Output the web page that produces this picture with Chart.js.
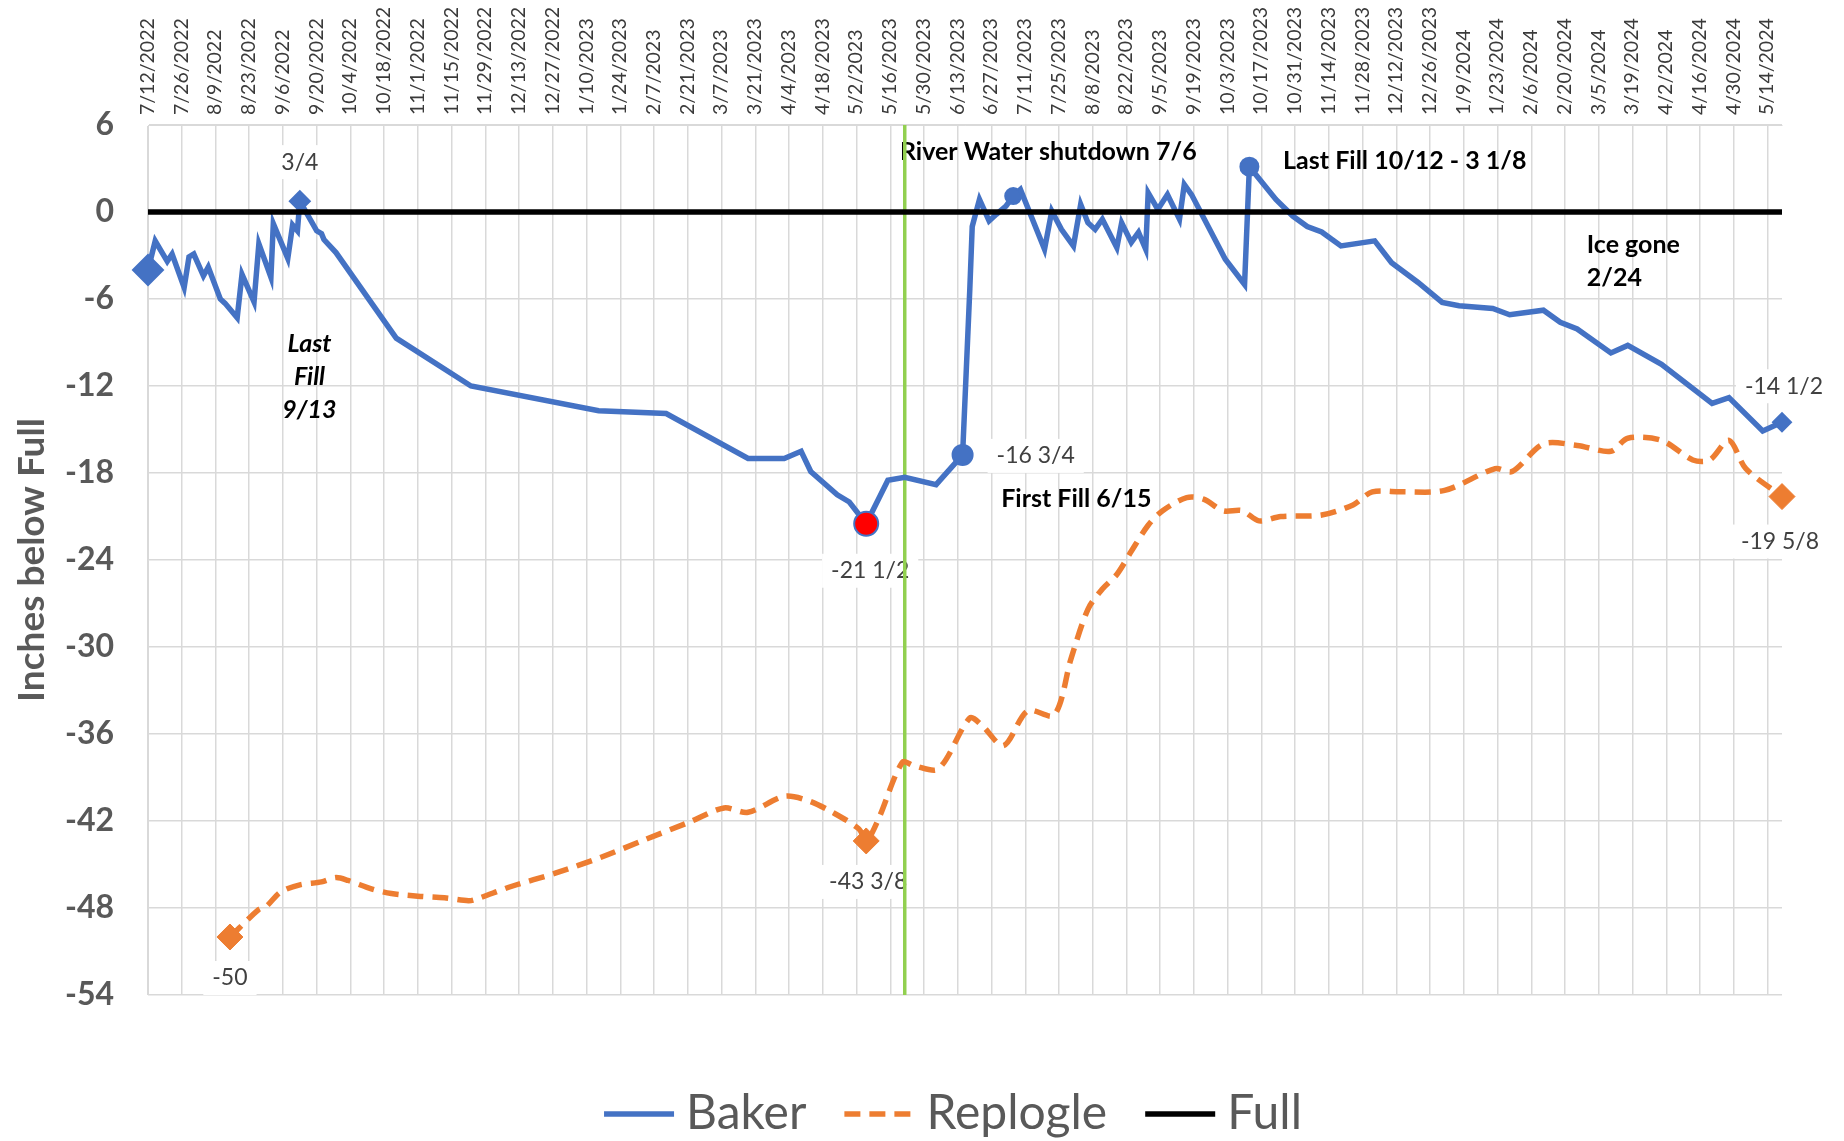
<!DOCTYPE html>
<html lang="en">
<head>
<meta charset="UTF-8">
<title>Baker / Replogle levels</title>
<script src="https://cdn.jsdelivr.net/npm/chart.js"></script>
<style>
  html, body { margin: 0; padding: 0; background: #fff; }
  #wrap { width: 1844px; height: 1141px; position: relative; }
</style>
</head>
<body>
<div id="wrap"><canvas id="levelChart"></canvas></div>
<script>
// x = days since 7/12/2022, y = inches below full
const tickLabels = ['7/12/2022','7/26/2022','8/9/2022','8/23/2022','9/6/2022','9/20/2022','10/4/2022','10/18/2022',
  '11/1/2022','11/15/2022','11/29/2022','12/13/2022','12/27/2022','1/10/2023','1/24/2023','2/7/2023','2/21/2023',
  '3/7/2023','3/21/2023','4/4/2023','4/18/2023','5/2/2023','5/16/2023','5/30/2023','6/13/2023','6/27/2023',
  '7/11/2023','7/25/2023','8/8/2023','8/22/2023','9/5/2023','9/19/2023','10/3/2023','10/17/2023','10/31/2023',
  '11/14/2023','11/28/2023','12/12/2023','12/26/2023','1/9/2024','1/23/2024','2/6/2024','2/20/2024','3/5/2024',
  '3/19/2024','4/2/2024','4/16/2024','4/30/2024','5/14/2024'];

const bakerDays = [0,3,8,10,15,17,19,23,25,30,32,37,39,44,46,51,52,58,60,62,63,70,72,73,78,103,134,187,215,249,
  264,271,275,286,291,298,307,314,327,338,341,342,345,349,352,356,359,362,372,375,379,384,387,390,393,396,402,404,
  408,411,414,415,419,423,428,430,433,447,455,457,468,475,481,487,495,509,516,527,537,544,558,565,579,586,593,607,
  614,628,649,656,670,678];
const bakerInches = [-4,-2,-3.4,-2.9,-5.2,-3.1,-2.9,-4.4,-3.8,-6,-6.3,-7.3,-4.3,-6.2,-2.2,-4.5,-0.8,-3.2,-0.9,-1.3,
  0.75,-1.3,-1.5,-1.9,-2.8,-8.7,-12,-13.7,-13.9,-17,-17,-16.5,-17.9,-19.5,-20,-21.5,-18.5,-18.3,-18.8,-16.75,
  -5.3,-1,0.87,-0.62,-0.16,0.4,1.1,1.56,-2.57,0.07,-1.2,-2.35,0.53,-0.74,-1.2,-0.5,-2.46,-0.74,-2.1,-1.4,
  -2.57,1.33,0.18,1.2,-0.5,1.9,1.2,-3.26,-5,3.125,0.87,-0.28,-1,-1.38,-2.34,-1.99,-3.5,-4.86,-6.24,-6.47,
  -6.65,-7.09,-6.77,-7.6,-8.07,-9.72,-9.2,-10.5,-13.2,-12.8,-15.1,-14.5];

const replogleDays = [34,46,49,55,63,72,78,83,93,101,113,123,133,136,151,169,188,206,225,239,249,264,274,284,295,
  298,303,313,318,328,341,346,355,365,376,383,390,396,402,408,415,421,431,438,446,454,461,470,487,500,508,520,538,
  559,566,579,593,607,614,628,641,648,656,663,678];
const replogleInches = [-50,-48.1,-47.9,-46.9,-46.4,-46.2,-45.9,-46.1,-46.7,-47,-47.2,-47.3,-47.5,-47.4,-46.5,
  -45.6,-44.5,-43.3,-42.05,-41.1,-41.4,-40.3,-40.6,-41.4,-42.55,-43.375,-41.9,-37.95,-38.2,-38.4,-34.9,-35.4,
  -36.8,-34.4,-34.7,-30.8,-27.4,-26,-25,-23.4,-21.6,-20.6,-19.7,-19.8,-20.6,-20.6,-21.3,-21,-20.9,-20.2,-19.3,
  -19.3,-19.2,-17.7,-17.9,-16,-16.1,-16.5,-15.6,-15.75,-17.1,-17.1,-15.75,-17.7,-19.625];

const fullDays = [0, 678];
const fullInches = [0, 0];

const shutdownDays = [314, 314];
const shutdownInches = [6, -54];

const BLUE = '#4472C4', ORANGE = '#ED7D31', GREEN = '#92D050';
const FONT = "Lato, 'Open Sans', sans-serif";

// highlighted points
const bakerMarks = [
  {day: 0, style: 'rectRot', r: 15, fill: BLUE},
  {day: 63, style: 'rectRot', r: 10, fill: BLUE},
  {day: 298, style: 'circle', r: 12, fill: '#FF0000'},
  {day: 338, style: 'circle', r: 10, fill: BLUE},
  {day: 359, style: 'circle', r: 8, fill: BLUE},
  {day: 457, style: 'circle', r: 9, fill: BLUE},
  {day: 678, style: 'rectRot', r: 9, fill: BLUE}
];
const replogleMarks = [
  {day: 34, style: 'rectRot', r: 13, fill: ORANGE},
  {day: 298, style: 'rectRot', r: 13, fill: ORANGE},
  {day: 678, style: 'rectRot', r: 13, fill: ORANGE}
];

// value labels (white box), offsets in px from the point
const valueLabels = [
  {text: '3/4', day: 63, inches: 0.75, dx: 0, dy: -39, align: 'center'},
  {text: '-16 3/4', day: 338, inches: -16.75, dx: 34, dy: 1, align: 'left'},
  {text: '-21 1/2', day: 298, inches: -21.5, dx: 4, dy: 47, align: 'center'},
  {text: '-43 3/8', day: 298, inches: -43.375, dx: 2, dy: 41, align: 'center'},
  {text: '-50', day: 34, inches: -50, dx: 0, dy: 41, align: 'center'},
  {text: '-14 1/2', day: 678, inches: -14.5, dx: 2, dy: -36, align: 'center'},
  {text: '-19 5/8', day: 678, inches: -19.625, dx: -2, dy: 45, align: 'center'}
];

// free text notes
const notes = [
  {lines: ['River Water shutdown 7/6'], day: 312, inches: 4.14, align: 'left'},
  {lines: ['Last Fill 10/12 - 3 1/8'], day: 471, inches: 3.5, align: 'left'},
  {lines: ['Ice gone', '2/24'], day: 597, inches: -2.28, align: 'left'},
  {lines: ['Last', 'Fill', '9/13'], day: 67, inches: -9.1, align: 'center', italic: true},
  {lines: ['First Fill 6/15'], day: 354, inches: -19.8, align: 'left'}
];

function toPoints(days, vals) {
  return days.map((d, i) => ({x: d, y: vals[i]}));
}

function markOf(marks, days, ctx) {
  if (ctx.dataIndex === undefined) return null;
  const d = days[ctx.dataIndex];
  return marks.find(m => m.day === d) || null;
}

const notesPlugin = {
  id: 'notes',
  beforeDatasetsDraw(chart) {
    const {ctx, scales: {x, y}} = chart;
    ctx.save();
    ctx.textBaseline = 'middle';

    ctx.font = `23px ${FONT}`;
    valueLabels.forEach(l => {
      const px = x.getPixelForValue(l.day) + l.dx;
      const py = y.getPixelForValue(l.inches) + l.dy;
      const w = ctx.measureText(l.text).width;
      const left = l.align === 'left' ? px : px - w / 2;
      ctx.fillStyle = '#fff';
      ctx.fillRect(left - 9, py - 17, w + 18, 34);
      ctx.fillStyle = '#404040';
      ctx.textAlign = l.align;
      ctx.fillText(l.text, px, py);
    });

    notes.forEach(n => {
      ctx.font = `${n.italic ? 'italic ' : ''}bold 25px ${FONT}`;
      ctx.fillStyle = '#000';
      ctx.textAlign = n.align;
      const px = x.getPixelForValue(n.day);
      const py = y.getPixelForValue(n.inches);
      n.lines.forEach((t, i) => ctx.fillText(t, px, py + i * 33));
    });
    ctx.restore();
  }
};

// legend drawn by hand so the spacing matches the original
const legendPlugin = {
  id: 'lineLegend',
  afterDraw(chart) {
    const {ctx, chartArea} = chart;
    const items = chart.data.datasets.filter(ds => ds.label);
    const sym = 70, gap = 12, space = 38;
    ctx.save();
    ctx.font = `48px ${FONT}`;
    const widths = items.map(ds => ctx.measureText(ds.label).width);
    const total = widths.reduce((a, w) => a + sym + gap + w, 0) + space * (items.length - 1);
    let cx = (chartArea.left + chartArea.right) / 2 - 12 - total / 2;
    const cy = chartArea.bottom + 119;
    items.forEach((ds, i) => {
      ctx.strokeStyle = ds.borderColor;
      ctx.lineWidth = ds.borderWidth;
      ctx.setLineDash(ds.borderDash || []);
      ctx.beginPath();
      ctx.moveTo(cx, cy);
      ctx.lineTo(cx + sym, cy);
      ctx.stroke();
      ctx.setLineDash([]);
      ctx.fillStyle = '#595959';
      ctx.textAlign = 'left';
      ctx.textBaseline = 'middle';
      ctx.fillText(ds.label, cx + sym + gap, cy);
      cx += sym + gap + widths[i] + space;
    });
    ctx.restore();
  }
};

new Chart(document.getElementById('levelChart'), {
  type: 'line',
  data: {
    datasets: [
      {
        label: 'Baker',
        data: toPoints(bakerDays, bakerInches),
        borderColor: BLUE,
        backgroundColor: BLUE,
        borderWidth: 5.5,
        tension: 0,
        order: 1,
        clip: false,
        pointStyle: ctx => (markOf(bakerMarks, bakerDays, ctx) || {}).style || 'circle',
        pointRadius: ctx => (markOf(bakerMarks, bakerDays, ctx) || {}).r || 0,
        pointHoverRadius: ctx => (markOf(bakerMarks, bakerDays, ctx) || {}).r || 0,
        pointBackgroundColor: ctx => (markOf(bakerMarks, bakerDays, ctx) || {}).fill || BLUE,
        pointBorderColor: BLUE,
        pointBorderWidth: 2
      },
      {
        label: 'Replogle',
        data: toPoints(replogleDays, replogleInches),
        borderColor: ORANGE,
        backgroundColor: ORANGE,
        borderWidth: 5.5,
        borderDash: [16, 9],
        tension: 0.3,
        order: 2,
        clip: false,
        pointStyle: 'rectRot',
        pointRadius: ctx => (markOf(replogleMarks, replogleDays, ctx) || {}).r || 0,
        pointHoverRadius: ctx => (markOf(replogleMarks, replogleDays, ctx) || {}).r || 0,
        pointBackgroundColor: ORANGE,
        pointBorderColor: ORANGE,
        pointBorderWidth: 1
      },
      {
        label: 'Full',
        data: toPoints(fullDays, fullInches),
        borderColor: '#000',
        backgroundColor: '#000',
        borderWidth: 5.5,
        pointRadius: 0,
        order: 0
      },
      {
        label: '',
        data: toPoints(shutdownDays, shutdownInches),
        borderColor: GREEN,
        backgroundColor: GREEN,
        borderWidth: 3.5,
        pointRadius: 0,
        order: 3
      }
    ]
  },
  options: {
    responsive: true,
    maintainAspectRatio: false,
    animation: false,
    layout: {padding: {left: 0, right: 62, top: 0, bottom: 146}},
    plugins: {
      tooltip: {enabled: false},
      legend: {display: false}
    },
    scales: {
      x: {
        type: 'linear',
        position: 'top',
        min: 0,
        max: 678,
        afterFit: s => { s.height = 125; },
        grid: {color: '#D9D9D9', lineWidth: 1.5, drawTicks: false},
        border: {color: '#D9D9D9'},
        ticks: {
          stepSize: 14,
          includeBounds: false,
          autoSkip: false,
          minRotation: 90,
          maxRotation: 90,
          padding: 10,
          labelOffset: 23,
          color: '#3a3a3a',
          font: {family: FONT, size: 19.5},
          callback: v => tickLabels[Math.round(v / 14)]
        }
      },
      y: {
        min: -54,
        max: 6,
        afterFit: s => { s.width = 148; },
        grid: {color: '#D9D9D9', lineWidth: 1.5, drawTicks: false},
        border: {color: '#D9D9D9'},
        ticks: {
          stepSize: 6,
          padding: 34,
          color: '#595959',
          font: {family: FONT, size: 32, weight: 'bold'}
        },
        title: {
          display: true,
          text: 'Inches below Full',
          color: '#595959',
          padding: {top: 10, bottom: 0},
          font: {family: FONT, size: 37, weight: 'bold'}
        }
      }
    }
  },
  plugins: [notesPlugin, legendPlugin]
});
</script>
</body>
</html>
